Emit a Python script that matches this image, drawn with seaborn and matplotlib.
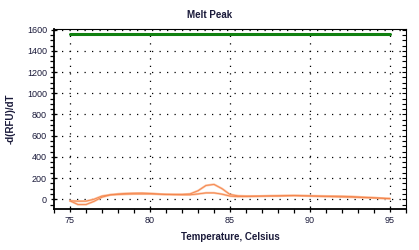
import numpy as np
import pandas as pd
import seaborn as sns
import matplotlib
matplotlib.use("Agg")
import matplotlib.pyplot as plt
from matplotlib.ticker import MultipleLocator

temps = [75 + 0.5 * i for i in range(41)]
curve_a = [-15, -50, -50, -20, 20, 40, 45, 48, 50, 50, 50, 48, 47, 46, 46, 50,
           80, 130, 140, 100, 45, 32, 30, 30, 30, 30, 30, 32, 34, 32, 30, 28,
           26, 24, 22, 20, 18, 15, 12, 10, 5]
curve_b = [-15, -18, -18, 0, 30, 42, 50, 55, 57, 58, 55, 50, 45, 43, 42, 42,
           50, 60, 60, 48, 30, 25, 26, 28, 30, 32, 33, 34, 35, 33, 32, 31,
           30, 29, 28, 26, 22, 18, 14, 10, 6]
threshold = [1555] * 41

sns.set_theme(style="white")
plt.rcParams['font.family'] = ['Liberation Sans', 'DejaVu Sans']

df = pd.DataFrame({
    "T": temps * 2,
    "v": curve_a + curve_b,
    "s": ["A"] * 41 + ["B"] * 41,
})
dft = pd.DataFrame({"T": temps, "v": threshold})

fig = plt.figure(figsize=(4.19, 2.5), dpi=100)
ax = fig.add_axes([54 / 419, 1 - 209 / 250, 352 / 419, 180 / 250])
ax.set_axisbelow(True)

sns.lineplot(data=dft, x="T", y="v", color="#108010", lw=2.2, ax=ax, zorder=3)
sns.lineplot(data=df, x="T", y="v", units="s", estimator=None,
             color="#fcc2a0", lw=1.6, ax=ax, zorder=3)
sns.lineplot(data=df, x="T", y="v", units="s", estimator=None,
             color="#f4834a", lw=0.6, ax=ax, zorder=4)

ax.set_xlim(74, 96)
ax.set_ylim(-92, 1606)
ax.xaxis.set_major_locator(MultipleLocator(5))
ax.xaxis.set_minor_locator(MultipleLocator(1))
ax.yaxis.set_major_locator(MultipleLocator(200))
ax.yaxis.set_minor_locator(MultipleLocator(50))

ax.grid(True, which="major", color="black", linestyle=(0, (1, 5)), lw=0.9)
ax.tick_params(which="major", direction="inout", length=5, width=0.9,
               color="black", labelsize=6.5, labelcolor="#1a1a3a", pad=2.5,
               left=True, bottom=True)
ax.tick_params(which="minor", direction="out", length=3, width=0.9,
               color="black", left=True, bottom=True)

for side in ["left", "bottom"]:
    ax.spines[side].set_color("black")
    ax.spines[side].set_linewidth(1.3)
for side in ["top", "right"]:
    ax.spines[side].set_color("black")
    ax.spines[side].set_linewidth(0.8)

ax2 = ax.twinx()
ax2.set_ylim(ax.get_ylim())
ax2.yaxis.set_major_locator(MultipleLocator(200))
ax2.yaxis.set_minor_locator(MultipleLocator(50))
ax2.tick_params(which="both", direction="in", length=3, width=0.8,
                color="black", labelright=False, right=True)
ax2.grid(False)
for s in ax2.spines.values():
    s.set_visible(False)

ax.set_xlabel("Temperature, Celsius", fontsize=7, fontweight="bold",
              color="#1a1a3a", labelpad=5)
ax.set_ylabel("-d(RFU)/dT", fontsize=7, fontweight="bold",
              color="#1a1a3a", labelpad=8)
if ax.get_legend():
    ax.get_legend().remove()

fig.text(0.5, 1 - 14.5 / 250, "Melt Peak", ha="center", va="center",
         fontsize=7, fontweight="bold", color="#1a1a3a")

fig.savefig("out.png", dpi=100, facecolor="white")
